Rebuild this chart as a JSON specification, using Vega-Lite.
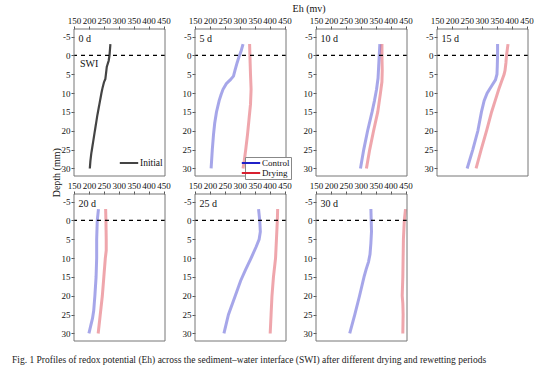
{
  "$schema": "https://vega.github.io/schema/vega-lite/v6.json",
  "padding": {"left": 12, "top": 4, "right": 5, "bottom": 5},
  "background": "white",
  "title": {"text": "Fig. 1  Profiles of redox potential (Eh) across the sediment–water interface (SWI) after different drying and rewetting periods", "orient": "bottom", "anchor": "start", "font": "Liberation Serif", "fontSize": 9.5, "fontWeight": "normal", "color": "#222", "offset": 13, "dx": -40},
  "datasets": {"eh": [
    {"panel":"0 d","series":"Initial","depth":-3,"eh":272},
    {"panel":"0 d","series":"Initial","depth":0,"eh":269},
    {"panel":"0 d","series":"Initial","depth":1.5,"eh":266},
    {"panel":"0 d","series":"Initial","depth":3,"eh":260},
    {"panel":"0 d","series":"Initial","depth":5,"eh":257},
    {"panel":"0 d","series":"Initial","depth":6.3,"eh":255},
    {"panel":"0 d","series":"Initial","depth":7,"eh":251},
    {"panel":"0 d","series":"Initial","depth":8.5,"eh":246},
    {"panel":"0 d","series":"Initial","depth":10,"eh":242},
    {"panel":"0 d","series":"Initial","depth":13,"eh":235},
    {"panel":"0 d","series":"Initial","depth":16,"eh":228},
    {"panel":"0 d","series":"Initial","depth":19,"eh":222},
    {"panel":"0 d","series":"Initial","depth":22,"eh":216},
    {"panel":"0 d","series":"Initial","depth":26,"eh":208},
    {"panel":"0 d","series":"Initial","depth":28,"eh":205},
    {"panel":"0 d","series":"Initial","depth":30,"eh":203},
    {"panel":"5 d","series":"Control","depth":-3,"eh":311},
    {"panel":"5 d","series":"Control","depth":-1,"eh":304},
    {"panel":"5 d","series":"Control","depth":0,"eh":299},
    {"panel":"5 d","series":"Control","depth":2,"eh":291},
    {"panel":"5 d","series":"Control","depth":4,"eh":284},
    {"panel":"5 d","series":"Control","depth":5.5,"eh":279},
    {"panel":"5 d","series":"Control","depth":6.5,"eh":268},
    {"panel":"5 d","series":"Control","depth":7.5,"eh":255},
    {"panel":"5 d","series":"Control","depth":9,"eh":244},
    {"panel":"5 d","series":"Control","depth":10.5,"eh":237},
    {"panel":"5 d","series":"Control","depth":12,"eh":231},
    {"panel":"5 d","series":"Control","depth":15,"eh":222},
    {"panel":"5 d","series":"Control","depth":18,"eh":216},
    {"panel":"5 d","series":"Control","depth":21,"eh":212},
    {"panel":"5 d","series":"Control","depth":25,"eh":208},
    {"panel":"5 d","series":"Control","depth":30,"eh":204},
    {"panel":"5 d","series":"Drying","depth":-3,"eh":333},
    {"panel":"5 d","series":"Drying","depth":0,"eh":334},
    {"panel":"5 d","series":"Drying","depth":5,"eh":336},
    {"panel":"5 d","series":"Drying","depth":9,"eh":338},
    {"panel":"5 d","series":"Drying","depth":13,"eh":336},
    {"panel":"5 d","series":"Drying","depth":17,"eh":331},
    {"panel":"5 d","series":"Drying","depth":21,"eh":326},
    {"panel":"5 d","series":"Drying","depth":25,"eh":320},
    {"panel":"5 d","series":"Drying","depth":28,"eh":315},
    {"panel":"5 d","series":"Drying","depth":30,"eh":311},
    {"panel":"10 d","series":"Control","depth":-3,"eh":364},
    {"panel":"10 d","series":"Control","depth":0,"eh":362},
    {"panel":"10 d","series":"Control","depth":3,"eh":360},
    {"panel":"10 d","series":"Control","depth":6,"eh":358},
    {"panel":"10 d","series":"Control","depth":9,"eh":353},
    {"panel":"10 d","series":"Control","depth":12,"eh":346},
    {"panel":"10 d","series":"Control","depth":15,"eh":338},
    {"panel":"10 d","series":"Control","depth":20,"eh":323},
    {"panel":"10 d","series":"Control","depth":25,"eh":310},
    {"panel":"10 d","series":"Control","depth":30,"eh":299},
    {"panel":"10 d","series":"Drying","depth":-3,"eh":371},
    {"panel":"10 d","series":"Drying","depth":0,"eh":371},
    {"panel":"10 d","series":"Drying","depth":4,"eh":372},
    {"panel":"10 d","series":"Drying","depth":7,"eh":371},
    {"panel":"10 d","series":"Drying","depth":10,"eh":366},
    {"panel":"10 d","series":"Drying","depth":15,"eh":357},
    {"panel":"10 d","series":"Drying","depth":20,"eh":343},
    {"panel":"10 d","series":"Drying","depth":25,"eh":330},
    {"panel":"10 d","series":"Drying","depth":30,"eh":319},
    {"panel":"15 d","series":"Control","depth":-3,"eh":353},
    {"panel":"15 d","series":"Control","depth":0,"eh":353},
    {"panel":"15 d","series":"Control","depth":3,"eh":352},
    {"panel":"15 d","series":"Control","depth":5,"eh":351},
    {"panel":"15 d","series":"Control","depth":6.5,"eh":346},
    {"panel":"15 d","series":"Control","depth":8,"eh":334},
    {"panel":"15 d","series":"Control","depth":10,"eh":318},
    {"panel":"15 d","series":"Control","depth":12,"eh":308},
    {"panel":"15 d","series":"Control","depth":15,"eh":299},
    {"panel":"15 d","series":"Control","depth":20,"eh":287},
    {"panel":"15 d","series":"Control","depth":25,"eh":270},
    {"panel":"15 d","series":"Control","depth":30,"eh":251},
    {"panel":"15 d","series":"Drying","depth":-3,"eh":388},
    {"panel":"15 d","series":"Drying","depth":0,"eh":383},
    {"panel":"15 d","series":"Drying","depth":2,"eh":381},
    {"panel":"15 d","series":"Drying","depth":4,"eh":378},
    {"panel":"15 d","series":"Drying","depth":5,"eh":375},
    {"panel":"15 d","series":"Drying","depth":7,"eh":366},
    {"panel":"15 d","series":"Drying","depth":9,"eh":357},
    {"panel":"15 d","series":"Drying","depth":12,"eh":345},
    {"panel":"15 d","series":"Drying","depth":15,"eh":333},
    {"panel":"15 d","series":"Drying","depth":20,"eh":316},
    {"panel":"15 d","series":"Drying","depth":25,"eh":298},
    {"panel":"15 d","series":"Drying","depth":30,"eh":281},
    {"panel":"20 d","series":"Control","depth":-3,"eh":232},
    {"panel":"20 d","series":"Control","depth":0,"eh":228},
    {"panel":"20 d","series":"Control","depth":5,"eh":226},
    {"panel":"20 d","series":"Control","depth":10,"eh":226},
    {"panel":"20 d","series":"Control","depth":15,"eh":224},
    {"panel":"20 d","series":"Control","depth":20,"eh":220},
    {"panel":"20 d","series":"Control","depth":24,"eh":216},
    {"panel":"20 d","series":"Control","depth":26,"eh":212},
    {"panel":"20 d","series":"Control","depth":28,"eh":206},
    {"panel":"20 d","series":"Control","depth":30,"eh":200},
    {"panel":"20 d","series":"Drying","depth":-3,"eh":256},
    {"panel":"20 d","series":"Drying","depth":0,"eh":257},
    {"panel":"20 d","series":"Drying","depth":5,"eh":258},
    {"panel":"20 d","series":"Drying","depth":8,"eh":258},
    {"panel":"20 d","series":"Drying","depth":10,"eh":255},
    {"panel":"20 d","series":"Drying","depth":15,"eh":250},
    {"panel":"20 d","series":"Drying","depth":20,"eh":245},
    {"panel":"20 d","series":"Drying","depth":25,"eh":238},
    {"panel":"20 d","series":"Drying","depth":30,"eh":231},
    {"panel":"25 d","series":"Control","depth":-3,"eh":363},
    {"panel":"25 d","series":"Control","depth":0,"eh":367},
    {"panel":"25 d","series":"Control","depth":3,"eh":369},
    {"panel":"25 d","series":"Control","depth":5,"eh":365},
    {"panel":"25 d","series":"Control","depth":7,"eh":355},
    {"panel":"25 d","series":"Control","depth":10,"eh":338},
    {"panel":"25 d","series":"Control","depth":13,"eh":320},
    {"panel":"25 d","series":"Control","depth":16,"eh":303},
    {"panel":"25 d","series":"Control","depth":20,"eh":285},
    {"panel":"25 d","series":"Control","depth":25,"eh":262},
    {"panel":"25 d","series":"Control","depth":30,"eh":247},
    {"panel":"25 d","series":"Drying","depth":-3,"eh":427},
    {"panel":"25 d","series":"Drying","depth":0,"eh":426},
    {"panel":"25 d","series":"Drying","depth":5,"eh":423},
    {"panel":"25 d","series":"Drying","depth":10,"eh":420},
    {"panel":"25 d","series":"Drying","depth":15,"eh":413},
    {"panel":"25 d","series":"Drying","depth":20,"eh":408},
    {"panel":"25 d","series":"Drying","depth":25,"eh":405},
    {"panel":"25 d","series":"Drying","depth":30,"eh":402},
    {"panel":"30 d","series":"Control","depth":-3,"eh":334},
    {"panel":"30 d","series":"Control","depth":0,"eh":335},
    {"panel":"30 d","series":"Control","depth":3,"eh":336},
    {"panel":"30 d","series":"Control","depth":6,"eh":334},
    {"panel":"30 d","series":"Control","depth":9,"eh":331},
    {"panel":"30 d","series":"Control","depth":11,"eh":326},
    {"panel":"30 d","series":"Control","depth":13,"eh":318},
    {"panel":"30 d","series":"Control","depth":15,"eh":311},
    {"panel":"30 d","series":"Control","depth":20,"eh":296},
    {"panel":"30 d","series":"Control","depth":25,"eh":280},
    {"panel":"30 d","series":"Control","depth":30,"eh":263},
    {"panel":"30 d","series":"Drying","depth":-3,"eh":450},
    {"panel":"30 d","series":"Drying","depth":0,"eh":446},
    {"panel":"30 d","series":"Drying","depth":5,"eh":443},
    {"panel":"30 d","series":"Drying","depth":10,"eh":442},
    {"panel":"30 d","series":"Drying","depth":15,"eh":441},
    {"panel":"30 d","series":"Drying","depth":20,"eh":439},
    {"panel":"30 d","series":"Drying","depth":22,"eh":441},
    {"panel":"30 d","series":"Drying","depth":25,"eh":442},
    {"panel":"30 d","series":"Drying","depth":30,"eh":441}
  ]},
  "data": {"name": "eh"},
  "resolve": {"scale": {"color": "independent", "strokeDash": "independent"}, "legend": {"color": "independent", "strokeDash": "independent"}},
  "vconcat": [
    {
      "title": {"text": "Depth (mm)", "orient": "left", "anchor": "middle", "font": "Liberation Serif", "fontSize": 10, "fontWeight": "normal", "color": "#111", "offset": -1},
      "spacing": 1,
      "resolve": {"scale": {"color": "independent", "strokeDash": "independent"}, "legend": {"color": "independent", "strokeDash": "independent"}},
      "vconcat": [
        {
          "title": {"text": "Eh (mv)", "orient": "top", "anchor": "middle", "font": "Liberation Serif", "fontSize": 10, "fontWeight": "normal", "color": "#111", "offset": 2, "dx": 12},
          "spacing": 30,
          "bounds": "flush",
          "resolve": {"scale": {"color": "independent", "strokeDash": "independent"}, "legend": {"color": "independent", "strokeDash": "independent"}},
          "hconcat": [
            {"width": 91, "height": 147, "resolve": {"axis": {"x": "independent", "y": "independent"}}, "layer": [
              {"transform": [{"filter": "datum.panel === '0 d'"}], "mark": {"type": "line", "color": "#444", "strokeWidth": 2.2},
               "encoding": {
                 "x": {"field": "eh", "type": "quantitative", "scale": {"domain": [150, 455], "nice": false}, "axis": {"orient": "top", "title": null, "values": [150, 350]}},
                 "y": {"field": "depth", "type": "quantitative", "scale": {"domain": [-7, 32], "reverse": true, "nice": false, "zero": false}, "axis": {"orient": "left", "title": null, "values": [-5, 15], "labelExpr": "'' + datum.value"}},
                 "order": {"field": "depth", "type": "quantitative"},
                 "strokeDash": {"field": "series", "type": "nominal", "scale": {"domain": ["Initial"], "range": [[1, 0]]}, "legend": {"title": null, "orient": "none", "legendX": 50, "legendY": 129, "symbolType": "M-2.3,0H2.3", "symbolSize": 64, "symbolStrokeWidth": 2, "symbolStrokeColor": "#444", "labelFont": "Liberation Serif", "labelFontSize": 9.5, "labelColor": "#111", "labelOffset": 6, "padding": 0}}
               }},
              {"data": {"values": [{"label": "0 d", "note": "SWI"}]}, "mark": {"type": "rule", "color": "#000", "strokeWidth": 1.3, "strokeDash": [4, 4]}, "encoding": {"y": {"datum": 0, "axis": {"orient": "left", "title": null, "values": [0, 20]}}}},
              {"data": {"values": [{"label": "0 d", "note": "SWI"}]}, "mark": {"type": "text", "align": "left", "baseline": "middle", "font": "Liberation Serif", "fontSize": 10, "color": "#111"}, "encoding": {"x": {"datum": 165, "axis": {"orient": "top", "title": null, "values": [200, 400]}}, "y": {"datum": -4.4, "axis": {"orient": "left", "title": null, "values": [5, 25]}}, "text": {"field": "label"}}},
              {"data": {"values": [{"label": "0 d", "note": "SWI"}]}, "mark": {"type": "rect", "fillOpacity": 0, "stroke": "#777", "strokeWidth": 1}, "encoding": {"x": {"datum": 150, "axis": {"orient": "top", "title": null, "values": [250, 450]}}, "x2": {"datum": 455}, "y": {"datum": -7, "axis": {"orient": "left", "title": null, "values": [10, 30]}}, "y2": {"datum": 32}}},
              {"data": {"values": [{"label": "0 d", "blank": ""}]}, "mark": {"type": "text"}, "encoding": {"x": {"datum": 300, "axis": {"orient": "top", "title": null, "values": [300]}}, "text": {"field": "blank"}}},
              {"data": {"values": [{"label": "0 d", "note": "SWI"}]}, "mark": {"type": "text", "align": "left", "baseline": "middle", "font": "Liberation Serif", "fontSize": 10, "color": "#111"}, "encoding": {"x": {"datum": 170, "axis": null}, "y": {"datum": 2.2, "axis": null}, "text": {"field": "note"}}}
            ]},
            {"width": 91, "height": 147, "resolve": {"axis": {"x": "independent", "y": "independent"}}, "layer": [
              {"transform": [{"filter": "datum.panel === '5 d'"}], "mark": {"type": "line", "strokeWidth": 3, "opacity": 0.4},
               "encoding": {
                 "x": {"field": "eh", "type": "quantitative", "scale": {"domain": [150, 455], "nice": false}, "axis": {"orient": "top", "title": null, "values": [150, 350]}},
                 "y": {"field": "depth", "type": "quantitative", "scale": {"domain": [-7, 32], "reverse": true, "nice": false, "zero": false}, "axis": {"orient": "left", "title": null, "values": [-5, 15], "labelExpr": "'' + datum.value"}},
                 "order": {"field": "depth", "type": "quantitative"},
                 "color": {"field": "series", "type": "nominal", "scale": {"domain": ["Control", "Drying"], "range": ["#2020c8", "#d82030"]}, "legend": {"title": null, "orient": "none", "legendX": 50, "legendY": 128, "symbolType": "M-2.3,0H2.3", "symbolSize": 64, "symbolStrokeWidth": 2, "symbolOpacity": 1, "labelFont": "Liberation Serif", "labelFontSize": 9, "labelColor": "#111", "labelOffset": 6, "rowPadding": 0, "padding": 1, "strokeColor": "#888", "fillColor": "white"}}
               }},
              {"data": {"values": [{"label": "5 d"}]}, "mark": {"type": "rule", "color": "#000", "strokeWidth": 1.3, "strokeDash": [4, 4]}, "encoding": {"y": {"datum": 0, "axis": {"orient": "left", "title": null, "values": [0, 20]}}}},
              {"data": {"values": [{"label": "5 d"}]}, "mark": {"type": "text", "align": "left", "baseline": "middle", "font": "Liberation Serif", "fontSize": 10, "color": "#111"}, "encoding": {"x": {"datum": 165, "axis": {"orient": "top", "title": null, "values": [200, 400]}}, "y": {"datum": -4.4, "axis": {"orient": "left", "title": null, "values": [5, 25]}}, "text": {"field": "label"}}},
              {"data": {"values": [{"label": "5 d"}]}, "mark": {"type": "rect", "fillOpacity": 0, "stroke": "#777", "strokeWidth": 1}, "encoding": {"x": {"datum": 150, "axis": {"orient": "top", "title": null, "values": [250, 450]}}, "x2": {"datum": 455}, "y": {"datum": -7, "axis": {"orient": "left", "title": null, "values": [10, 30]}}, "y2": {"datum": 32}}},
              {"data": {"values": [{"label": "5 d", "blank": ""}]}, "mark": {"type": "text"}, "encoding": {"x": {"datum": 300, "axis": {"orient": "top", "title": null, "values": [300]}}, "text": {"field": "blank"}}}
            ]},
            {"width": 91, "height": 147, "resolve": {"axis": {"x": "independent", "y": "independent"}}, "layer": [
              {"transform": [{"filter": "datum.panel === '10 d'"}], "mark": {"type": "line", "strokeWidth": 3, "opacity": 0.4},
               "encoding": {
                 "x": {"field": "eh", "type": "quantitative", "scale": {"domain": [150, 455], "nice": false}, "axis": {"orient": "top", "title": null, "values": [150, 350]}},
                 "y": {"field": "depth", "type": "quantitative", "scale": {"domain": [-7, 32], "reverse": true, "nice": false, "zero": false}, "axis": {"orient": "left", "title": null, "values": [-5, 15], "labelExpr": "'' + datum.value"}},
                 "order": {"field": "depth", "type": "quantitative"},
                 "color": {"field": "series", "type": "nominal", "scale": {"domain": ["Control", "Drying"], "range": ["#2020c8", "#d82030"]}, "legend": null}
               }},
              {"data": {"values": [{"label": "10 d"}]}, "mark": {"type": "rule", "color": "#000", "strokeWidth": 1.3, "strokeDash": [4, 4]}, "encoding": {"y": {"datum": 0, "axis": {"orient": "left", "title": null, "values": [0, 20]}}}},
              {"data": {"values": [{"label": "10 d"}]}, "mark": {"type": "text", "align": "left", "baseline": "middle", "font": "Liberation Serif", "fontSize": 10, "color": "#111"}, "encoding": {"x": {"datum": 165, "axis": {"orient": "top", "title": null, "values": [200, 400]}}, "y": {"datum": -4.4, "axis": {"orient": "left", "title": null, "values": [5, 25]}}, "text": {"field": "label"}}},
              {"data": {"values": [{"label": "10 d"}]}, "mark": {"type": "rect", "fillOpacity": 0, "stroke": "#777", "strokeWidth": 1}, "encoding": {"x": {"datum": 150, "axis": {"orient": "top", "title": null, "values": [250, 450]}}, "x2": {"datum": 455}, "y": {"datum": -7, "axis": {"orient": "left", "title": null, "values": [10, 30]}}, "y2": {"datum": 32}}},
              {"data": {"values": [{"label": "10 d", "blank": ""}]}, "mark": {"type": "text"}, "encoding": {"x": {"datum": 300, "axis": {"orient": "top", "title": null, "values": [300]}}, "text": {"field": "blank"}}}
            ]},
            {"width": 91, "height": 147, "resolve": {"axis": {"x": "independent", "y": "independent"}}, "layer": [
              {"transform": [{"filter": "datum.panel === '15 d'"}], "mark": {"type": "line", "strokeWidth": 3, "opacity": 0.4},
               "encoding": {
                 "x": {"field": "eh", "type": "quantitative", "scale": {"domain": [150, 455], "nice": false}, "axis": {"orient": "top", "title": null, "values": [150, 350]}},
                 "y": {"field": "depth", "type": "quantitative", "scale": {"domain": [-7, 32], "reverse": true, "nice": false, "zero": false}, "axis": {"orient": "left", "title": null, "values": [-5, 15], "labelExpr": "'' + datum.value"}},
                 "order": {"field": "depth", "type": "quantitative"},
                 "color": {"field": "series", "type": "nominal", "scale": {"domain": ["Control", "Drying"], "range": ["#2020c8", "#d82030"]}, "legend": null}
               }},
              {"data": {"values": [{"label": "15 d"}]}, "mark": {"type": "rule", "color": "#000", "strokeWidth": 1.3, "strokeDash": [4, 4]}, "encoding": {"y": {"datum": 0, "axis": {"orient": "left", "title": null, "values": [0, 20]}}}},
              {"data": {"values": [{"label": "15 d"}]}, "mark": {"type": "text", "align": "left", "baseline": "middle", "font": "Liberation Serif", "fontSize": 10, "color": "#111"}, "encoding": {"x": {"datum": 165, "axis": {"orient": "top", "title": null, "values": [200, 400]}}, "y": {"datum": -4.4, "axis": {"orient": "left", "title": null, "values": [5, 25]}}, "text": {"field": "label"}}},
              {"data": {"values": [{"label": "15 d"}]}, "mark": {"type": "rect", "fillOpacity": 0, "stroke": "#777", "strokeWidth": 1}, "encoding": {"x": {"datum": 150, "axis": {"orient": "top", "title": null, "values": [250, 450]}}, "x2": {"datum": 455}, "y": {"datum": -7, "axis": {"orient": "left", "title": null, "values": [10, 30]}}, "y2": {"datum": 32}}},
              {"data": {"values": [{"label": "15 d", "blank": ""}]}, "mark": {"type": "text"}, "encoding": {"x": {"datum": 300, "axis": {"orient": "top", "title": null, "values": [300]}}, "text": {"field": "blank"}}}
            ]}
          ]
        },
        {
          "spacing": 30,
          "bounds": "flush",
          "resolve": {"scale": {"color": "independent", "strokeDash": "independent"}, "legend": {"color": "independent", "strokeDash": "independent"}},
          "hconcat": [
            {"width": 91, "height": 147, "resolve": {"axis": {"x": "independent", "y": "independent"}}, "layer": [
              {"transform": [{"filter": "datum.panel === '20 d'"}], "mark": {"type": "line", "strokeWidth": 3, "opacity": 0.4},
               "encoding": {
                 "x": {"field": "eh", "type": "quantitative", "scale": {"domain": [150, 455], "nice": false}, "axis": {"orient": "top", "title": null, "values": [150, 350]}},
                 "y": {"field": "depth", "type": "quantitative", "scale": {"domain": [-7, 32], "reverse": true, "nice": false, "zero": false}, "axis": {"orient": "left", "title": null, "values": [-5, 15], "labelExpr": "'' + datum.value"}},
                 "order": {"field": "depth", "type": "quantitative"},
                 "color": {"field": "series", "type": "nominal", "scale": {"domain": ["Control", "Drying"], "range": ["#2020c8", "#d82030"]}, "legend": null}
               }},
              {"data": {"values": [{"label": "20 d"}]}, "mark": {"type": "rule", "color": "#000", "strokeWidth": 1.3, "strokeDash": [4, 4]}, "encoding": {"y": {"datum": 0, "axis": {"orient": "left", "title": null, "values": [0, 20]}}}},
              {"data": {"values": [{"label": "20 d"}]}, "mark": {"type": "text", "align": "left", "baseline": "middle", "font": "Liberation Serif", "fontSize": 10, "color": "#111"}, "encoding": {"x": {"datum": 165, "axis": {"orient": "top", "title": null, "values": [200, 400]}}, "y": {"datum": -4.4, "axis": {"orient": "left", "title": null, "values": [5, 25]}}, "text": {"field": "label"}}},
              {"data": {"values": [{"label": "20 d"}]}, "mark": {"type": "rect", "fillOpacity": 0, "stroke": "#777", "strokeWidth": 1}, "encoding": {"x": {"datum": 150, "axis": {"orient": "top", "title": null, "values": [250, 450]}}, "x2": {"datum": 455}, "y": {"datum": -7, "axis": {"orient": "left", "title": null, "values": [10, 30]}}, "y2": {"datum": 32}}},
              {"data": {"values": [{"label": "20 d", "blank": ""}]}, "mark": {"type": "text"}, "encoding": {"x": {"datum": 300, "axis": {"orient": "top", "title": null, "values": [300]}}, "text": {"field": "blank"}}}
            ]},
            {"width": 91, "height": 147, "resolve": {"axis": {"x": "independent", "y": "independent"}}, "layer": [
              {"transform": [{"filter": "datum.panel === '25 d'"}], "mark": {"type": "line", "strokeWidth": 3, "opacity": 0.4},
               "encoding": {
                 "x": {"field": "eh", "type": "quantitative", "scale": {"domain": [150, 455], "nice": false}, "axis": {"orient": "top", "title": null, "values": [150, 350]}},
                 "y": {"field": "depth", "type": "quantitative", "scale": {"domain": [-7, 32], "reverse": true, "nice": false, "zero": false}, "axis": {"orient": "left", "title": null, "values": [-5, 15], "labelExpr": "'' + datum.value"}},
                 "order": {"field": "depth", "type": "quantitative"},
                 "color": {"field": "series", "type": "nominal", "scale": {"domain": ["Control", "Drying"], "range": ["#2020c8", "#d82030"]}, "legend": null}
               }},
              {"data": {"values": [{"label": "25 d"}]}, "mark": {"type": "rule", "color": "#000", "strokeWidth": 1.3, "strokeDash": [4, 4]}, "encoding": {"y": {"datum": 0, "axis": {"orient": "left", "title": null, "values": [0, 20]}}}},
              {"data": {"values": [{"label": "25 d"}]}, "mark": {"type": "text", "align": "left", "baseline": "middle", "font": "Liberation Serif", "fontSize": 10, "color": "#111"}, "encoding": {"x": {"datum": 165, "axis": {"orient": "top", "title": null, "values": [200, 400]}}, "y": {"datum": -4.4, "axis": {"orient": "left", "title": null, "values": [5, 25]}}, "text": {"field": "label"}}},
              {"data": {"values": [{"label": "25 d"}]}, "mark": {"type": "rect", "fillOpacity": 0, "stroke": "#777", "strokeWidth": 1}, "encoding": {"x": {"datum": 150, "axis": {"orient": "top", "title": null, "values": [250, 450]}}, "x2": {"datum": 455}, "y": {"datum": -7, "axis": {"orient": "left", "title": null, "values": [10, 30]}}, "y2": {"datum": 32}}},
              {"data": {"values": [{"label": "25 d", "blank": ""}]}, "mark": {"type": "text"}, "encoding": {"x": {"datum": 300, "axis": {"orient": "top", "title": null, "values": [300]}}, "text": {"field": "blank"}}}
            ]},
            {"width": 91, "height": 147, "resolve": {"axis": {"x": "independent", "y": "independent"}}, "layer": [
              {"transform": [{"filter": "datum.panel === '30 d'"}], "mark": {"type": "line", "strokeWidth": 3, "opacity": 0.4},
               "encoding": {
                 "x": {"field": "eh", "type": "quantitative", "scale": {"domain": [150, 455], "nice": false}, "axis": {"orient": "top", "title": null, "values": [150, 350]}},
                 "y": {"field": "depth", "type": "quantitative", "scale": {"domain": [-7, 32], "reverse": true, "nice": false, "zero": false}, "axis": {"orient": "left", "title": null, "values": [-5, 15], "labelExpr": "'' + datum.value"}},
                 "order": {"field": "depth", "type": "quantitative"},
                 "color": {"field": "series", "type": "nominal", "scale": {"domain": ["Control", "Drying"], "range": ["#2020c8", "#d82030"]}, "legend": null}
               }},
              {"data": {"values": [{"label": "30 d"}]}, "mark": {"type": "rule", "color": "#000", "strokeWidth": 1.3, "strokeDash": [4, 4]}, "encoding": {"y": {"datum": 0, "axis": {"orient": "left", "title": null, "values": [0, 20]}}}},
              {"data": {"values": [{"label": "30 d"}]}, "mark": {"type": "text", "align": "left", "baseline": "middle", "font": "Liberation Serif", "fontSize": 10, "color": "#111"}, "encoding": {"x": {"datum": 165, "axis": {"orient": "top", "title": null, "values": [200, 400]}}, "y": {"datum": -4.4, "axis": {"orient": "left", "title": null, "values": [5, 25]}}, "text": {"field": "label"}}},
              {"data": {"values": [{"label": "30 d"}]}, "mark": {"type": "rect", "fillOpacity": 0, "stroke": "#777", "strokeWidth": 1}, "encoding": {"x": {"datum": 150, "axis": {"orient": "top", "title": null, "values": [250, 450]}}, "x2": {"datum": 455}, "y": {"datum": -7, "axis": {"orient": "left", "title": null, "values": [10, 30]}}, "y2": {"datum": 32}}},
              {"data": {"values": [{"label": "30 d", "blank": ""}]}, "mark": {"type": "text"}, "encoding": {"x": {"datum": 300, "axis": {"orient": "top", "title": null, "values": [300]}}, "text": {"field": "blank"}}}
            ]}
          ]
        }
      ]
    }
  ],
  "config": {
    "view": {"stroke": null},
    "font": "Liberation Serif",
    "axis": {"grid": false, "domain": false, "ticks": true, "tickSize": 3, "tickColor": "#555", "labelPadding": 1, "labelFont": "Liberation Serif", "labelFontSize": 9, "labelColor": "#111", "labelFlush": false, "labelOverlap": false}
  }
}
